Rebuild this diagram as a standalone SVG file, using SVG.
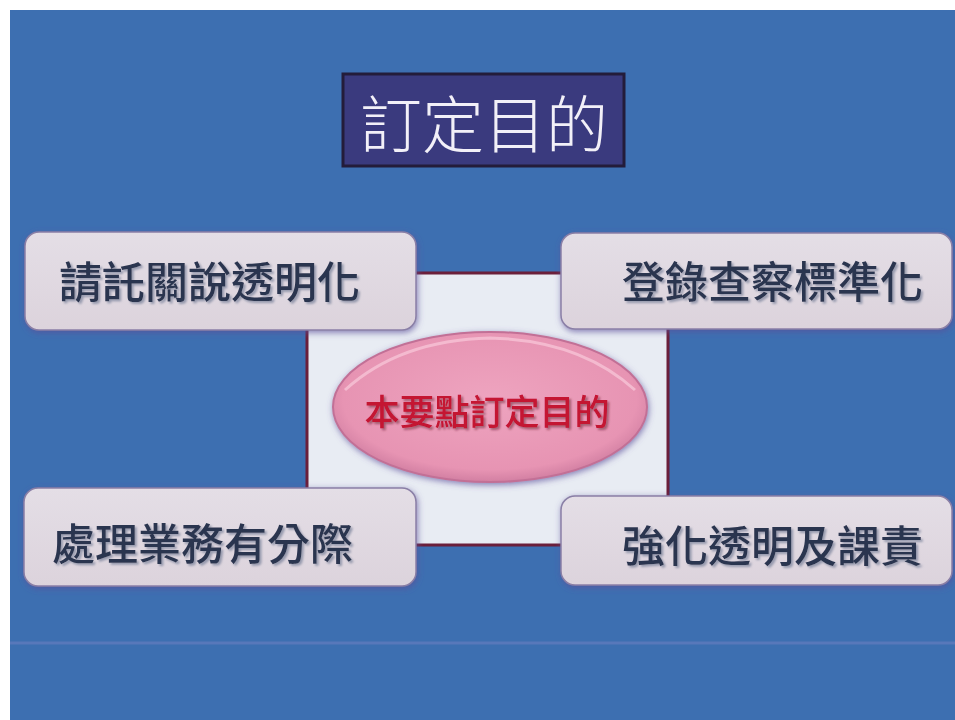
<svg xmlns="http://www.w3.org/2000/svg" width="955" height="720" viewBox="0 0 955 720">
<defs>
<style>
.box{fill:url(#boxg);stroke:#8a7fa6;stroke-width:1.5}
.lbl{font-family:"Noto Sans CJK TC","Noto Sans CJK SC",sans-serif;font-size:43px;fill:#2c3550;font-weight:500}
</style>
<linearGradient id="boxg" x1="0" y1="0" x2="0" y2="1">
<stop offset="0" stop-color="#e4dee6"/>
<stop offset="1" stop-color="#dcd3dc"/>
</linearGradient>
<radialGradient id="ellg" cx="0.5" cy="0.45" r="0.55">
<stop offset="0" stop-color="#eea4bf"/>
<stop offset="0.85" stop-color="#e794b3"/>
<stop offset="1" stop-color="#d27fa2"/>
</radialGradient>
<filter id="sh2" x="-10%" y="-20%" width="120%" height="140%">
<feGaussianBlur in="SourceAlpha" stdDeviation="3"/>
<feOffset dx="1" dy="2" result="o"/>
<feFlood flood-color="#5a4e9a" flood-opacity="0.7"/>
<feComposite operator="in" in2="o"/>
<feMerge><feMergeNode/><feMergeNode in="SourceGraphic"/></feMerge>
</filter>
<filter id="tsh" x="-5%" y="-20%" width="110%" height="140%">
<feDropShadow dx="2" dy="2" stdDeviation="0.8" flood-color="#8e93a8" flood-opacity="0.9"/>
</filter>
<filter id="tsh2" x="-5%" y="-20%" width="110%" height="140%">
<feDropShadow dx="2" dy="2" stdDeviation="0.8" flood-color="#5a1020" flood-opacity="0.5"/>
</filter>
</defs>
<rect x="0" y="0" width="955" height="720" fill="#ffffff"/>
<rect x="10" y="10" width="945" height="710" fill="#3d6fb1"/>
<line x1="10" y1="643" x2="955" y2="643" stroke="#6b7fc0" stroke-width="3" opacity="0.6"/>

<g id="title">
<rect x="343" y="74" width="281" height="92" fill="#3a3a7e" stroke="#231c3a" stroke-width="3"/>
<text x="484" y="148" text-anchor="middle" font-family="'Noto Sans CJK TC','Noto Sans CJK SC',sans-serif" font-size="62" font-weight="300" fill="#f2f0f8">訂定目的</text>
</g>

<g id="center">
<rect x="307" y="273" width="361" height="272" fill="#e8ecf3" stroke="#6b1f3a" stroke-width="3"/>
<ellipse cx="490" cy="407" rx="157" ry="75" fill="url(#ellg)" stroke="#c27096" stroke-width="2" filter="url(#sh2)"/>
<path d="M345,390 Q400,340 490,338 Q580,340 635,390" fill="none" stroke="#f6c3d6" stroke-width="3" opacity="0.8"/>
<text x="487" y="425" text-anchor="middle" font-family="'Noto Sans CJK TC','Noto Sans CJK SC',sans-serif" font-size="35" font-weight="500" fill="#c41230" filter="url(#tsh2)">本要點訂定目的</text>
</g>

<g id="tl">
<rect class="box" x="25" y="232" width="391" height="98" rx="14" filter="url(#sh2)"/>
<text class="lbl" x="59" y="298" filter="url(#tsh)">請託關說透明化</text>
</g>
<g id="tr">
<rect class="box" x="561" y="233" width="391" height="96" rx="14" filter="url(#sh2)"/>
<text class="lbl" x="622" y="298" filter="url(#tsh)">登錄查察標準化</text>
</g>
<g id="bl">
<rect class="box" x="24" y="488" width="392" height="98" rx="14" filter="url(#sh2)"/>
<text class="lbl" x="52" y="560" filter="url(#tsh)">處理業務有分際</text>
</g>
<g id="br">
<rect class="box" x="561" y="496" width="391" height="89" rx="14" filter="url(#sh2)"/>
<text class="lbl" x="622" y="562" filter="url(#tsh)">強化透明及課責</text>
</g>
<g id="connectors"></g>
</svg>
